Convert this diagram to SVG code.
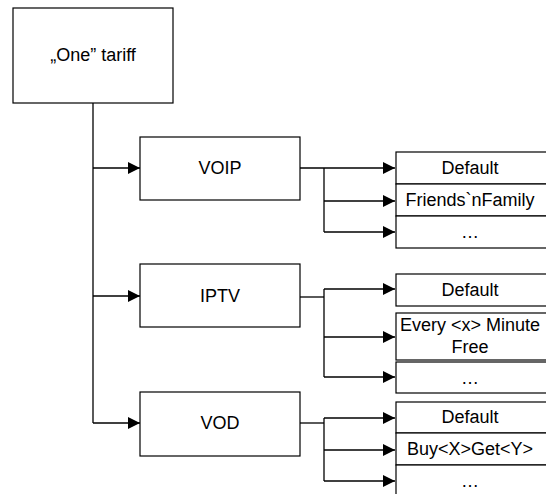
<svg xmlns="http://www.w3.org/2000/svg" width="546" height="494" viewBox="0 0 546 494">
  <style>
    .box { fill: #fff; stroke: #000; stroke-width: 1.2; }
    .lbl { font-family: "Liberation Sans", Arial, sans-serif; font-size: 18px; fill: #000; text-anchor: middle; dominant-baseline: central; }
    .conn { fill: none; stroke: #000; stroke-width: 1.3; }
  </style>
  <defs>
    <marker id="arrow" viewBox="0 0 12 12" refX="12" refY="6" markerWidth="12" markerHeight="12" markerUnits="userSpaceOnUse" orient="auto">
      <path d="M0,0 L12,6 L0,12 Z" fill="#000"/>
    </marker>
  </defs>
  <rect width="546" height="494" fill="#fff"/>

  <g id="connectors">
    <!-- trunk from the tariff box -->
    <path class="conn" d="M93,103 V423"/>
    <path class="conn" d="M93,168 H140" marker-end="url(#arrow)"/>
    <path class="conn" d="M93,296 H140" marker-end="url(#arrow)"/>
    <path class="conn" d="M93,423 H140" marker-end="url(#arrow)"/>
    <!-- VOIP options -->
    <path class="conn" d="M300,168 H395" marker-end="url(#arrow)"/>
    <path class="conn" d="M324,168 V232"/>
    <path class="conn" d="M324,201 H395" marker-end="url(#arrow)"/>
    <path class="conn" d="M324,232 H395" marker-end="url(#arrow)"/>
    <!-- IPTV options -->
    <path class="conn" d="M300,297 H324"/>
    <path class="conn" d="M324,289 V377"/>
    <path class="conn" d="M324,289 H395" marker-end="url(#arrow)"/>
    <path class="conn" d="M324,337 H395" marker-end="url(#arrow)"/>
    <path class="conn" d="M324,377 H395" marker-end="url(#arrow)"/>
    <!-- VOD options -->
    <path class="conn" d="M300,423 H324"/>
    <path class="conn" d="M324,418 V481"/>
    <path class="conn" d="M324,418 H395" marker-end="url(#arrow)"/>
    <path class="conn" d="M324,450 H395" marker-end="url(#arrow)"/>
    <path class="conn" d="M324,481 H395" marker-end="url(#arrow)"/>
  </g>

  <g id="tariff">
    <rect class="box" x="13" y="8" width="160" height="95"/>
    <text class="lbl" x="93" y="55">„One” tariff</text>
  </g>

  <g id="voip">
    <rect class="box" x="140" y="137" width="160" height="63"/>
    <text class="lbl" x="220" y="168">VOIP</text>
  </g>
  <g id="iptv">
    <rect class="box" x="140" y="264" width="160" height="63"/>
    <text class="lbl" x="220" y="296">IPTV</text>
  </g>
  <g id="vod">
    <rect class="box" x="140" y="392" width="160" height="64"/>
    <text class="lbl" x="220" y="423">VOD</text>
  </g>

  <g id="voip-default">
    <rect class="box" x="396" y="152" width="160" height="32"/>
    <text class="lbl" x="470" y="168">Default</text>
  </g>
  <g id="voip-friends">
    <rect class="box" x="396" y="184" width="160" height="32"/>
    <text class="lbl" x="470" y="200">Friends`nFamily</text>
  </g>
  <g id="voip-more">
    <rect class="box" x="396" y="216" width="160" height="32"/>
    <text class="lbl" x="470" y="232">…</text>
  </g>

  <g id="iptv-default">
    <rect class="box" x="396" y="274" width="160" height="32"/>
    <text class="lbl" x="470" y="290">Default</text>
  </g>
  <g id="iptv-every">
    <rect class="box" x="396" y="313" width="160" height="47"/>
    <text class="lbl" x="470" y="325">Every &lt;x&gt; Minute</text>
    <text class="lbl" x="470" y="347">Free</text>
  </g>
  <g id="iptv-more">
    <rect class="box" x="396" y="362" width="160" height="31"/>
    <text class="lbl" x="470" y="378">…</text>
  </g>

  <g id="vod-default">
    <rect class="box" x="396" y="402" width="160" height="31"/>
    <text class="lbl" x="470" y="417">Default</text>
  </g>
  <g id="vod-buy">
    <rect class="box" x="396" y="433" width="160" height="32"/>
    <text class="lbl" x="470" y="449">Buy&lt;X&gt;Get&lt;Y&gt;</text>
  </g>
  <g id="vod-more">
    <rect class="box" x="396" y="465" width="160" height="32"/>
    <text class="lbl" x="470" y="481">…</text>
  </g>
</svg>
